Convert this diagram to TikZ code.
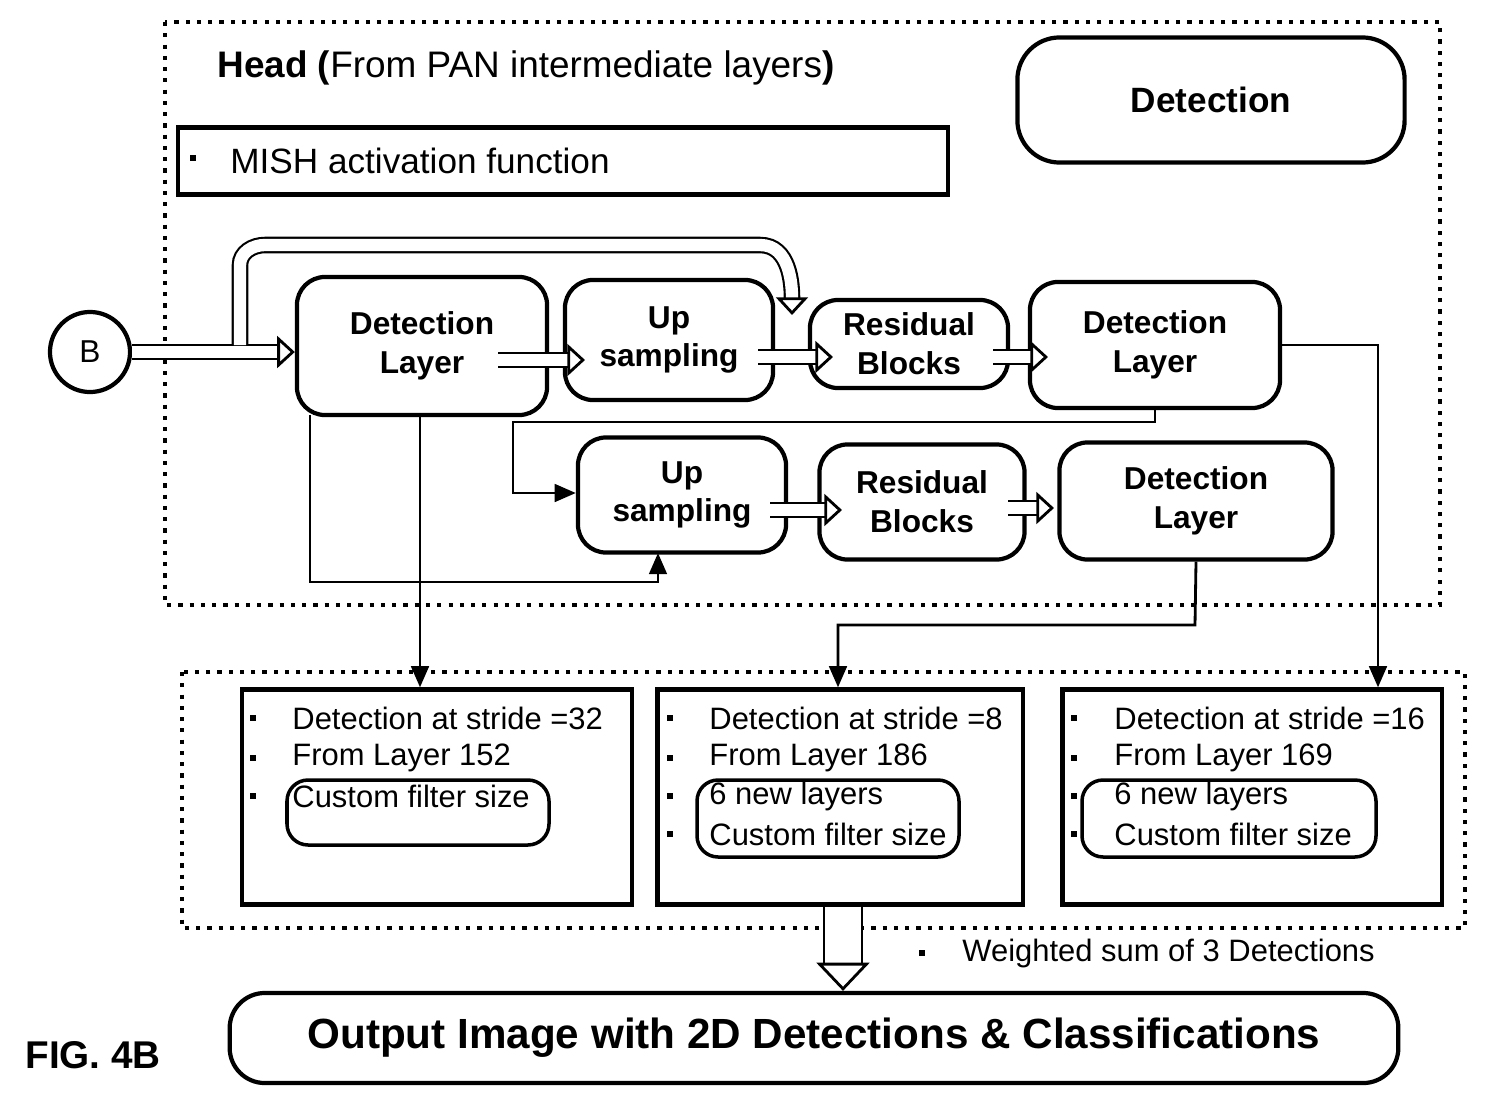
\documentclass[tikz,border=0pt]{standalone}
\usepackage{fontspec}
\setmainfont{Liberation Sans}
\usetikzlibrary{arrows.meta,positioning,calc}

\tikzset{
  blk/.style={draw, line width=1.2pt, rounded corners=8pt, align=center, font=\fontsize{9}{11}\selectfont\bfseries},
  sq/.style={draw, line width=1.2pt},
  hollow/.style={double, double distance=3.5pt, line width=0.6pt, -{Triangle[open, length=5pt, width=9pt, line width=0.8pt, fill=white]}},
  link/.style={line width=0.8pt, -{Triangle[length=6pt, width=5pt]}},
  dots/.style={draw, line width=1.2pt, dotted},
  bul/.style={anchor=west, font=\fontsize{8.8}{10}\selectfont},
}

\begin{document}
\begin{tikzpicture}[x=0.01cm, y=-0.01cm]
  \useasboundingbox (0,0) rectangle (1488,1106);

  % Head region
  \draw[dots] (165,22) rectangle (1440,605);
  \node[anchor=west, font=\fontsize{10.5}{12}\selectfont] (head) at (205,68) {\textbf{Head (}From PAN intermediate layers\textbf{)}};
  \node[blk, minimum width=3.87cm, minimum height=1.25cm, rounded corners=12pt, font=\fontsize{10}{12}\selectfont\bfseries] (det) at (1211,100) {Detection};
  \node[sq, minimum width=7.7cm, minimum height=0.67cm] (mish) at (563,161) {};
  \fill (190,155) rectangle ++(6,6);
  \node[anchor=west, font=\fontsize{10}{12}\selectfont] (mishtxt) at (218,161) {MISH activation function};

  % Input
  \node[draw, circle, line width=1.2pt, minimum size=0.8cm, font=\fontsize{9}{11}\selectfont] (B) at (90,352) {B};

  % Blocks
  \node[blk, minimum width=2.5cm, minimum height=1.38cm] (dl1) at (422,346) {Detection\\Layer};
  \node[blk, minimum width=2.08cm, minimum height=1.2cm] (up1) at (669,340) {Up\\sampling};
  \node[blk, minimum width=1.98cm, minimum height=0.88cm] (res1) at (909,344) {Residual\\Blocks};
  \node[blk, minimum width=2.5cm, minimum height=1.26cm] (dl2) at (1155,345) {Detection\\Layer};
  \node[blk, minimum width=2.08cm, minimum height=1.15cm] (up2) at (682,495) {Up\\sampling};
  \node[blk, minimum width=2.05cm, minimum height=1.15cm] (res2) at (922,502) {Residual\\Blocks};
  \node[blk, minimum width=2.73cm, minimum height=1.17cm] (dl3) at (1196,501) {Detection\\Layer};

  % Hollow arrows
  \draw[hollow] (B.east) -- (dl1.west |- B.east);
  \draw[hollow] (240,345) -- (240,265) to[out=90, in=180] (265,245) -- (760,245) to[out=0, in=90] (792,315);
  \draw[hollow] (498,360) -- (585,360);
  \draw[hollow] (758,357) -- (833,357);
  \draw[hollow] (993,357) -- (1048,357);
  \draw[hollow] (770,510) -- (842,510);
  \draw[hollow] (1008,508) -- (1054,508);

  % Lower boxes
  \draw[dots] (182,672) rectangle (1465,928);
  \node[sq, minimum width=3.9cm, minimum height=2.15cm] (outA) at (437,797) {};
  \node[sq, minimum width=3.65cm, minimum height=2.15cm] (outB) at (840,797) {};
  \node[sq, minimum width=3.79cm, minimum height=2.15cm] (outC) at (1252,797) {};
  \draw[line width=1pt, rounded corners=6pt] (287,780) rectangle (549,845);
  \draw[line width=1pt, rounded corners=6pt] (697,780) rectangle (959,857);
  \draw[line width=1pt, rounded corners=6pt] (1082,780) rectangle (1376,857);
  \foreach \y in {718,758,796} { \fill (250,\y-3) rectangle ++(6,6); }
  \foreach \y in {718,758,796,834} { \fill (667,\y-3) rectangle ++(6,6); \fill (1071,\y-3) rectangle ++(6,6); }
  \node[bul] (a1) at (280,718) {Detection at stride =32};
  \node[bul] (a2) at (280,758) {From Layer 152};
  \node[bul] (a3) at (280,796) {Custom filter size};
  \node[bul] (b1) at (697,718) {Detection at stride =8};
  \node[bul] (b2) at (697,758) {From Layer 186};
  \node[bul] (b3) at (697,796) {6 new layers};
  \node[bul] (b4) at (697,834) {Custom filter size};
  \node[bul] (c1) at (1102,718) {Detection at stride =16};
  \node[bul] (c2) at (1102,758) {From Layer 169};
  \node[bul] (c3) at (1102,796) {6 new layers};
  \node[bul] (c4) at (1102,834) {Custom filter size};

  % Thin connectors
  \draw[link] (dl2.south) -- (1155,422) -- (513,422) -- (513,493) -- (up2.west |- 0,493);
  \draw[link] (310,415) -- (310,582) -- (658,582) -- (658,553);
  \draw[link] (420,415) -- (outA.north -| 420,0);
  \draw[link] (dl3.south) -- (1195,625) -- (838,625) -- (outB.north -| 838,0);
  \draw[link] (dl2.east) -- (1378,345) -- (outC.north -| 1378,0);

  % Output
  \node[blk, minimum width=11.68cm, minimum height=0.9cm, rounded corners=10pt, font=\fontsize{12}{14}\selectfont\bfseries] (out) at (814,1038) {Output Image with 2D Detections \& Classifications};
  \draw[double, double distance=10pt, line width=0.8pt, -{Triangle[open, length=8pt, width=15pt, line width=0.8pt, fill=white]}] (outB.south -| 843,0) -- (out.north -| 843,0);
  \fill (919,950) rectangle ++(6,6);
  \node[bul] (wsum) at (950,953) {Weighted sum of 3 Detections};
  \node[anchor=west, font=\fontsize{11}{13}\selectfont\bfseries] (fig) at (13,1055) {FIG. 4B};
\end{tikzpicture}
\end{document}
